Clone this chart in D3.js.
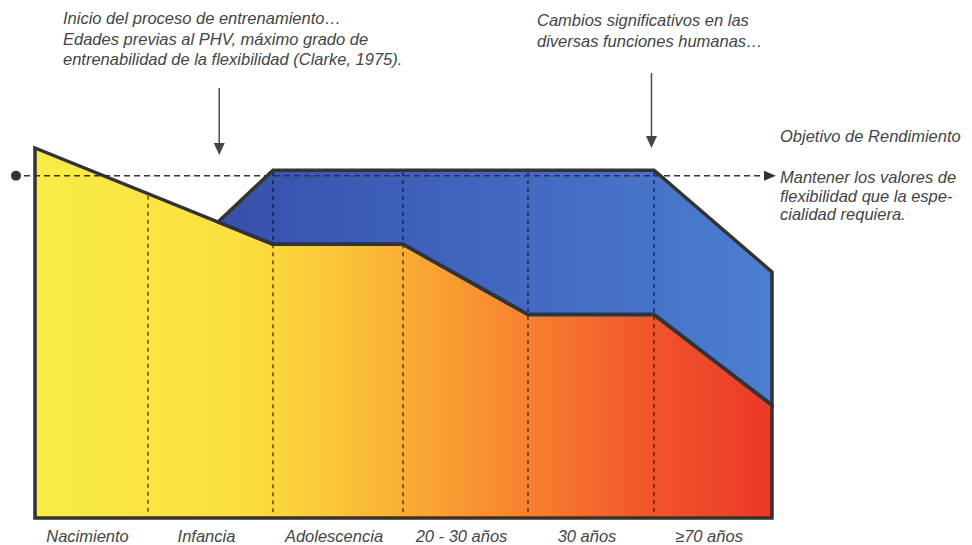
<!DOCTYPE html>
<html>
<head>
<meta charset="utf-8">
<script src="https://cdn.jsdelivr.net/npm/d3@7/dist/d3.min.js"></script>
<style>
  html, body { margin: 0; padding: 0; background: #ffffff; }
  svg { display: block; }
  text { font-family: "Liberation Sans", Arial, sans-serif; font-style: italic; fill: #444; }
</style>
</head>
<body>
<svg id="chart" width="972" height="545"></svg>
<script>
// ---- data ----
const stages = ["Nacimiento", "Infancia", "Adolescencia", "20 - 30 años", "30 años", "≥70 años"];
const boundaries = [0, 1, 2, 3, 4, 5, 6];
// natural flexibility level (yellow-red area)
const baseX = [0, 2, 3, 4, 5, 6];
const baseY = [100, 74, 74, 55, 55, 30.5];
// trained flexibility level (blue area)
const trainedX = [1.56, 2, 5, 6];
const trainedY = [80, 94, 94, 66.5];
// performance target level
const targetLevel = 92.5;
// annotations
const noteLeft = ["Inicio del proceso de entrenamiento…", "Edades previas al PHV, máximo grado de", "entrenabilidad de la flexibilidad (Clarke, 1975)."];
const noteLeftAt = 1.57;
const noteRight = ["Cambios significativos en las", "diversas funciones humanas…"];
const noteRightAt = 4.98;
const targetTitle = "Objetivo de Rendimiento";
const targetNote = ["Mantener los valores de", "flexibilidad que la espe-", "cialidad requiera."];

// ---- layout ----
const svg = d3.select("#chart");
const x = d3.scaleLinear().domain(boundaries).range([35, 148, 273, 403, 528, 654, 772]);
const y = d3.scaleLinear().domain([0, 100]).range([518, 148]);

const defs = svg.append("defs");
const gWarm = defs.append("linearGradient").attr("id", "warm")
  .attr("gradientUnits", "userSpaceOnUse").attr("x1", x(0)).attr("x2", x(6)).attr("y1", 0).attr("y2", 0);
[[0, "#f9ec46"], [0.28, "#fbdf3e"], [0.42, "#fbc338"], [0.55, "#f9a033"], [0.68, "#f77e2f"], [0.82, "#f2582b"], [1, "#ec3828"]]
  .forEach(s => gWarm.append("stop").attr("offset", s[0]).attr("stop-color", s[1]));
const gBlue = defs.append("linearGradient").attr("id", "blue")
  .attr("gradientUnits", "userSpaceOnUse").attr("x1", x(1.5)).attr("x2", x(6)).attr("y1", 0).attr("y2", 0);
[[0, "#3550ab"], [0.5, "#4266bf"], [1, "#4b7ed1"]]
  .forEach(s => gBlue.append("stop").attr("offset", s[0]).attr("stop-color", s[1]));

const basePts = baseX.map((d, i) => [x(d), y(baseY[i])]);
const trainedPts = trainedX.map((d, i) => [x(d), y(trainedY[i])]);

// pixel-space interpolation of a polyline
function yAt(pts, px) {
  for (let i = 0; i < pts.length - 1; i++) {
    const [x0, y0] = pts[i], [x1, y1] = pts[i + 1];
    if (px >= x0 - 0.01 && px <= x1 + 0.01) return y0 + (y1 - y0) * (px - x0) / (x1 - x0 || 1);
  }
  return null;
}

const line = d3.line();

// warm (natural) area
const warmPoly = [[x(0), y(0)], ...basePts, [x(6), y(0)]];
svg.append("path").attr("d", line(warmPoly) + "Z").attr("fill", "url(#warm)");

// blue (trained) area between base and trained lines
const blueLower = basePts.filter(p => p[0] > trainedPts[0][0]).reverse();
const bluePoly = [...trainedPts, ...blueLower];
svg.append("path").attr("d", line(bluePoly) + "Z").attr("fill", "url(#blue)");

// vertical dashed dividers
boundaries.slice(1, -1).forEach(b => {
  const px = x(b);
  const top = (px >= trainedPts[0][0]) ? yAt(trainedPts, px) : yAt(basePts, px);
  svg.append("line").attr("x1", px).attr("x2", px).attr("y1", top + 2).attr("y2", y(0) - 2)
    .attr("stroke", "#000").attr("stroke-opacity", 0.6).attr("stroke-width", 1.6)
    .attr("stroke-dasharray", "4,4");
});

// outlines
svg.append("path").attr("d", line(bluePoly) + "Z").attr("fill", "none")
  .attr("stroke", "#333").attr("stroke-width", 3.5).attr("stroke-linejoin", "miter");
svg.append("path").attr("d", line(warmPoly) + "Z").attr("fill", "none")
  .attr("stroke", "#333").attr("stroke-width", 3.5).attr("stroke-linejoin", "miter");

// target dashed line with dot and arrow
const ty = y(targetLevel);
svg.append("circle").attr("cx", 16).attr("cy", ty).attr("r", 5).attr("fill", "#333");
svg.append("line").attr("x1", 24).attr("x2", 764).attr("y1", ty).attr("y2", ty)
  .attr("stroke", "#333").attr("stroke-width", 1.5).attr("stroke-dasharray", "6,4");
svg.append("path").attr("d", `M764,${ty - 5} L776,${ty} L764,${ty + 5} Z`).attr("fill", "#333");

// annotation arrows
function downArrow(px, y0, y1) {
  svg.append("line").attr("x1", px).attr("x2", px).attr("y1", y0).attr("y2", y1 - 10)
    .attr("stroke", "#555").attr("stroke-width", 1.6);
  svg.append("path").attr("d", `M${px - 5.5},${y1 - 12} L${px + 5.5},${y1 - 12} L${px},${y1} Z`).attr("fill", "#444");
}
downArrow(x(noteLeftAt), 88, 155);
downArrow(x(noteRightAt), 73, 148);

// annotation texts
const fs = 16.5;
noteLeft.forEach((t, i) => svg.append("text").attr("x", 63).attr("y", 24 + i * 20.5)
  .attr("font-size", fs).text(t));
noteRight.forEach((t, i) => svg.append("text").attr("x", 537).attr("y", 26 + i * 21)
  .attr("font-size", fs).text(t));
svg.append("text").attr("x", 780).attr("y", 142).attr("font-size", fs).text(targetTitle);
targetNote.forEach((t, i) => svg.append("text").attr("x", 780).attr("y", 183 + i * 18.5)
  .attr("font-size", fs).text(t));

// stage labels
stages.forEach((s, i) => {
  svg.append("text").attr("x", (x(i) + x(i + 1)) / 2 - 4).attr("y", 542)
    .attr("text-anchor", "middle").attr("font-size", fs).text(s);
});
</script>
</body>
</html>
